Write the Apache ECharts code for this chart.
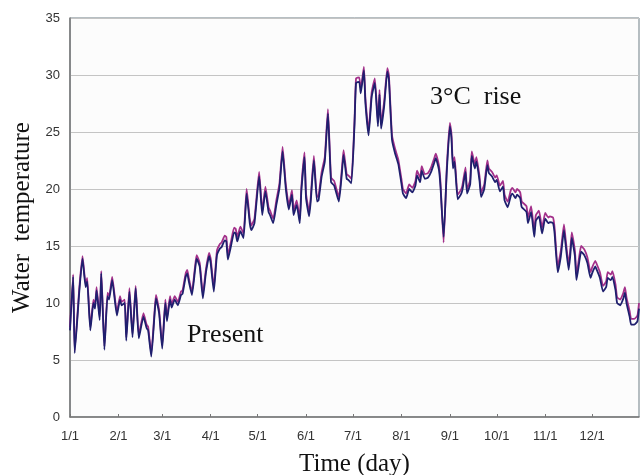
<!DOCTYPE html>
<html>
<head>
<meta charset="utf-8">
<script src="https://cdn.jsdelivr.net/npm/echarts@6/dist/echarts.min.js"></script>
<style>
html,body{margin:0;padding:0;background:#ffffff;}
#chart{width:641px;height:475px;}
</style>
</head>
<body>
<div id="chart"></div>
<script>
// Day-of-year positions of the sampled readings
const days = [0,2,3,6,8,10,11,13,15,16,17,19,20,22,24,25,27,30,32,33,35,36,38,40,42,44,47,49,50,52,54,55,57,59,61,62,64,65,67,69,71,72,74,75,76,78,80,81,83,85,87,89,90,92,94,96,97,99,100,101,103,105,106,107,109,111,113,115,116,118,121,123,125,127,128,130,132,134,136,138,140,142,143,145,147,148,150,151,153,154,156,158,159,161,163,165,167,169,172,174,175,177,178,180,182,183,185,186,188,189,191,193,195,197,198,199,201,203,204,206,208,210,212,213,215,217,219,221,222,224,225,227,229,231,233,234,236,237,239,241,243,244,245,246,248,250,251,253,254,256,257,259,260,262,263,265,267,268,270,272,273,275,277,278,280,282,283,285,286,288,289,292,293,295,297,298,300,302,304,306,307,309,310,312,314,316,317,319,320,321,323,324,326,327,329,331,333,334,336,337,339,341,343,344,346,347,349,350,352,354,355,356,358,359,361,363,364];

// Present water temperature (navy)
const present = [7.6,12.3,5.6,11.1,13.9,11.4,11.9,7.6,10.0,9.5,11.1,8.5,12.6,5.9,10.6,10.3,12.0,8.9,10.3,9.8,10.0,6.7,11.0,7.0,11.3,6.9,8.8,7.8,7.6,5.3,8.8,10.4,9.1,6.0,10.0,8.4,10.3,9.6,10.3,9.8,10.7,10.8,12.3,12.6,11.9,10.7,12.9,13.9,13.2,10.4,12.7,14.1,13.5,11.0,14.2,14.8,14.9,15.5,15.4,13.8,15.0,16.2,16.1,15.4,16.3,15.7,19.6,17.0,16.4,17.0,21.1,17.7,19.8,18.0,17.7,17.0,18.6,20.1,23.3,20.1,18.2,19.5,17.7,18.6,17.0,19.8,22.8,19.2,17.6,18.9,22.5,18.9,19.0,21.1,22.4,26.6,20.6,20.3,18.9,21.5,23.0,20.9,20.8,20.5,25.6,29.3,29.4,28.4,30.4,27.5,24.7,28.1,29.3,25.5,28.3,25.3,27.3,30.3,29.6,24.3,23.1,22.2,20.5,19.6,19.2,20.0,19.7,20.3,21.2,20.6,21.6,20.9,21.0,21.5,22.3,22.7,21.7,20.2,15.8,21.4,25.5,24.5,21.8,22.4,19.1,19.5,19.9,21.5,19.6,20.4,22.9,21.8,22.4,20.7,19.3,20.0,22.1,21.4,21.1,20.6,20.8,19.8,20.2,19.0,18.4,19.4,19.6,19.2,19.5,19.2,18.4,18.0,17.0,18.0,15.8,17.2,17.6,16.1,17.4,17.0,17.1,17.0,16.1,12.7,14.1,16.4,15.2,12.9,14.1,15.7,14.1,12.0,13.8,14.5,14.2,13.5,12.2,12.6,13.2,12.9,12.2,11.0,11.4,12.2,12.0,12.3,11.1,10.0,9.8,10.4,10.9,10.0,8.8,8.1,8.1,8.4,9.5];

// 3°C air-temperature rise scenario (magenta)
const rise = [7.9,12.5,5.8,11.4,14.1,11.7,12.2,7.9,10.3,9.8,11.4,8.8,12.8,6.2,10.9,10.6,12.3,9.2,10.6,10.1,10.3,7.0,11.3,7.3,11.5,7.2,9.1,8.1,7.9,5.6,9.1,10.7,9.4,6.3,10.3,8.7,10.6,9.9,10.6,10.1,11.0,11.1,12.6,12.9,12.2,11.0,13.2,14.2,13.5,10.8,13.0,14.4,13.9,11.4,14.6,15.2,15.3,15.9,15.8,14.2,15.4,16.6,16.5,15.8,16.7,16.1,20.0,17.4,16.8,17.4,21.5,18.1,20.2,18.4,18.1,17.4,19.0,20.5,23.7,20.5,18.6,19.9,18.1,19.0,17.4,20.2,23.2,19.6,18.0,19.3,22.9,19.3,19.4,21.5,22.8,27.0,21.0,20.7,19.3,21.9,23.4,21.3,21.2,20.9,26.0,29.7,29.8,28.8,30.7,27.9,25.1,28.5,29.7,25.9,28.7,25.7,27.7,30.6,30.0,24.7,23.5,22.6,20.9,20.0,19.6,20.4,20.1,20.7,21.6,21.0,22.0,21.3,21.4,21.9,22.7,23.1,22.1,20.6,15.3,21.8,25.8,24.9,22.2,22.8,19.5,19.9,20.3,21.9,20.0,20.8,23.3,22.2,22.8,21.1,19.7,20.4,22.5,21.8,21.5,21.0,21.2,20.3,20.7,19.5,18.9,19.9,20.1,19.7,20.0,19.7,18.9,18.5,17.5,18.5,16.3,17.7,18.1,16.6,17.9,17.5,17.6,17.5,16.6,13.2,14.6,16.9,15.7,13.4,14.6,16.2,14.6,12.5,14.3,15.0,14.7,14.0,12.7,13.1,13.7,13.4,12.7,11.5,11.9,12.7,12.5,12.8,11.6,10.5,10.3,10.9,11.4,10.5,9.3,8.6,8.6,8.9,10.0];

// Month-start tick positions and labels
const monthStartDays = [0,31,59,90,120,151,181,212,243,273,304,334];
const monthLabels = ['1/1','2/1','3/1','4/1','5/1','6/1','7/1','8/1','9/1','10/1','11/1','12/1'];

const yTicks = [0,5,10,15,20,25,30,35];

const pairs = (vals) => days.map((d, i) => [d, vals[i]]);

const chart = echarts.init(document.getElementById('chart'), null, {renderer: 'canvas'});
const serif = '"Liberation Serif", "DejaVu Serif", serif';
const sans = '"Liberation Sans", Arial, sans-serif';

chart.setOption({
  animation: false,
  backgroundColor: '#ffffff',
  grid: {
    left: 70, right: 2, top: 18, bottom: 58,
    outerBoundsMode: 'none',
    containLabel: false,
    show: true, borderColor: '#6f7f86', borderWidth: 1, backgroundColor: '#fcfcfc'
  },
  xAxis: {
    type: 'value',
    min: 0, max: 364,
    axisLine: {show: true, lineStyle: {color: '#777', width: 1.5}},
    axisTick: {show: true, inside: true, length: 3, customValues: monthStartDays, lineStyle: {color: '#777'}},
    axisLabel: {
      customValues: monthStartDays,
      formatter: (v) => monthLabels[monthStartDays.indexOf(v)] || '',
      color: '#333', fontFamily: sans, fontSize: 13, margin: 13
    },
    splitLine: {show: false},
    name: 'Time (day)',
    nameLocation: 'middle',
    nameGap: 35,
    nameTextStyle: {fontFamily: serif, fontSize: 25, color: '#111'}
  },
  yAxis: {
    type: 'value',
    min: yTicks[0], max: yTicks[yTicks.length - 1], interval: 5,
    axisLine: {show: true, lineStyle: {color: '#777', width: 1.5}},
    axisTick: {show: false},
    axisLabel: {color: '#333', fontFamily: sans, fontSize: 13, margin: 10},
    splitLine: {show: true, lineStyle: {color: '#c4c4c4', width: 1.2}},
    name: 'Water  temperature',
    nameLocation: 'middle',
    nameGap: 31,
    nameRotate: 90,
    nameTextStyle: {fontFamily: serif, fontSize: 25, color: '#111', padding: [0, 0, 0, 0]}
  },
  series: [
    {
      name: '3°C rise', type: 'line', data: pairs(rise),
      showSymbol: false, smooth: 0.15,
      lineStyle: {color: '#a3308a', width: 1.8}
    },
    {
      name: 'Present', type: 'line', data: pairs(present),
      showSymbol: false, smooth: 0.15,
      lineStyle: {color: '#1f1f6e', width: 1.8}
    }
  ],
  graphic: [
    {type: 'text', left: 430, top: 84, style: {text: '3°C  rise', font: '26px ' + serif, fill: '#111'}},
    {type: 'text', left: 187, top: 322, style: {text: 'Present', font: '26px ' + serif, fill: '#111'}}
  ]
});
</script>
</body>
</html>
